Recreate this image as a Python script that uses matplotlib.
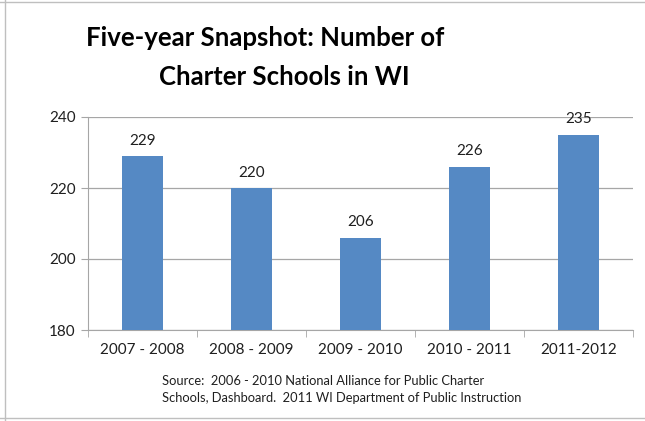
import matplotlib
matplotlib.use("Agg")
import matplotlib.pyplot as plt
from matplotlib.lines import Line2D

years = ["2007 - 2008", "2008 - 2009", "2009 - 2010", "2010 - 2011", "2011-2012"]
schools = [229, 220, 206, 226, 235]
yticks = [180, 200, 220, 240]

BLUE = "#5589C4"
GRID = "#A6A6A6"
TXT = "#1F1F1F"
plt.rcParams["font.family"] = ["Lato", "DejaVu Sans"]

fig = plt.figure(figsize=(6.45, 4.21), dpi=100)
ax = fig.add_axes([88 / 645, 91 / 421, 545 / 645, 213 / 421])

x = range(len(years))
ax.bar(x, schools, width=0.38, color=BLUE, zorder=3)
for xi, v in zip(x, schools):
    ax.annotate(str(v), (xi, v), xytext=(0, 6), textcoords="offset points",
                ha="center", va="bottom", fontsize=11, color=TXT)

ax.set_xlim(-0.5, len(years) - 0.5)
ax.set_ylim(180, 240)
ax.set_yticks(yticks)
ax.set_yticklabels([str(t) for t in yticks], fontsize=11, color=TXT)
ax.set_xticks(list(x))
ax.set_xticklabels(years, fontsize=11, color=TXT)
ax.tick_params(axis="x", length=0, pad=9)
ax.tick_params(axis="y", length=5, color=GRID, pad=4)
# category separators on the x axis
ax.set_xticks([i + 0.5 for i in range(-1, len(years))], minor=True)
ax.tick_params(axis="x", which="minor", length=5, color=GRID)

ax.grid(axis="y", color=GRID, lw=0.9, zorder=0)
for side in ("top", "right"):
    ax.spines[side].set_visible(False)
for side in ("left", "bottom"):
    ax.spines[side].set_color(GRID)

fig.text(265 / 645, 1 - 38 / 421, "Five-year Snapshot: Number of",
         ha="center", va="center", fontsize=18.5, fontweight="bold", color="black")
fig.text(284 / 645, 1 - 77 / 421, "Charter Schools in WI",
         ha="center", va="center", fontsize=18.5, fontweight="bold", color="black")

fig.text(162 / 645, 1 - 381 / 421,
         "Source:  2006 - 2010 National Alliance for Public Charter",
         ha="left", va="center", fontsize=9.3, color=TXT)
fig.text(162 / 645, 1 - 398 / 421,
         "Schools, Dashboard.  2011 WI Department of Public Instruction",
         ha="left", va="center", fontsize=9.3, color=TXT)

# outer frame of the chart area
for xs, ys in (([0, 1], [0.995, 0.995]), ([0.007, 0.007], [0, 1]), ([0, 1], [0.006, 0.006])):
    fig.add_artist(Line2D(xs, ys, transform=fig.transFigure, color="#BFBFBF", lw=1))

fig.savefig("out.png", dpi=100)
